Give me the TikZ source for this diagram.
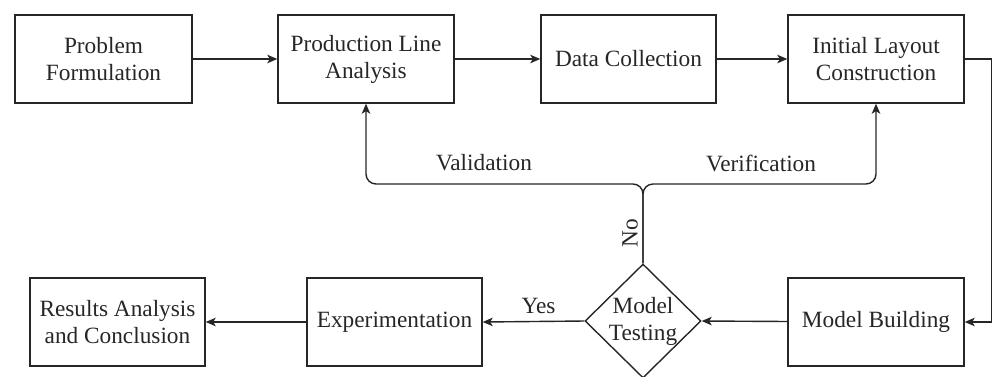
\documentclass[tikz,border=0pt]{standalone}
\usepackage{fontspec}
\setmainfont{Liberation Serif}
\usetikzlibrary{shapes.geometric,arrows.meta}
\begin{document}
\begin{tikzpicture}[x=1pt,y=-1pt,
  every node/.style={font=\fontsize{23.3}{27}\selectfont, text=black!85},
  box/.style={draw=black!85, line width=1.4pt, rectangle, minimum height=88pt, inner sep=0pt, align=center},
  dia/.style={draw=black!85, line width=1.4pt, diamond, minimum width=116pt, minimum height=114pt, inner sep=0pt},
  txt/.style={align=center, inner sep=0pt},
  conn/.style={draw=black!85, line width=1.4pt, -{Stealth[length=10pt,width=8.5pt,inset=2.5pt]}},
  line/.style={draw=black!85, line width=1.4pt}
]
\useasboundingbox (0,0) rectangle (992,376);
% top row
\node[box, minimum width=177pt] (pf)  at (103.5,59) {Problem\\Formulation};
\node[box, minimum width=176pt] (pla) at (366,59)   {Production Line\\Analysis};
\node[box, minimum width=175pt] (dc)  at (628.5,59) {Data Collection};
\node[box, minimum width=176pt] (ilc) at (876,59)   {Initial Layout\\Construction};
% bottom row
\node[box, minimum width=175pt] (rac) at (117.5,322) {Results Analysis\\and Conclusion};
\node[box, minimum width=175pt] (exp) at (394.5,322) {Experimentation};
\node[dia] (mt) at (643,321) {};
\node[txt] (mtt) at (mt.center) {Model\\Testing};
\node[box, minimum width=176pt] (mb)  at (876,322)  {Model Building};
% coordinates
\coordinate (rt) at (992,59);
\coordinate (rb) at (992,322);
\coordinate (j)  at (643,184);
\coordinate (vl) at (366,184);
\coordinate (vr) at (876,184);
% connectors
\draw[conn] (pf) -- (pla);
\draw[conn] (pla) -- (dc);
\draw[conn] (dc) -- (ilc);
\draw[conn] (ilc.east) -- (rt) -- (rb) -- (mb.east);
\draw[conn] (mb) -- (mt.east);
\draw[conn] (mt.west) -- node[above=7pt, pos=0.45, txt] (yes) {Yes} (exp.east);
\draw[conn] (exp) -- (rac);
\draw[conn, rounded corners=10pt] (mt.north) -- (j) -- (vl) -- (pla.south);
\draw[conn, rounded corners=10pt] (mt.north) -- (j) -- (vr) -- (ilc.south);
% labels
\node[txt] (val) at (484,163) {Validation};
\node[txt] (ver) at (761,163) {Verification};
\node[txt, rotate=90] (no) at (630,233) {No};
\end{tikzpicture}
\end{document}
